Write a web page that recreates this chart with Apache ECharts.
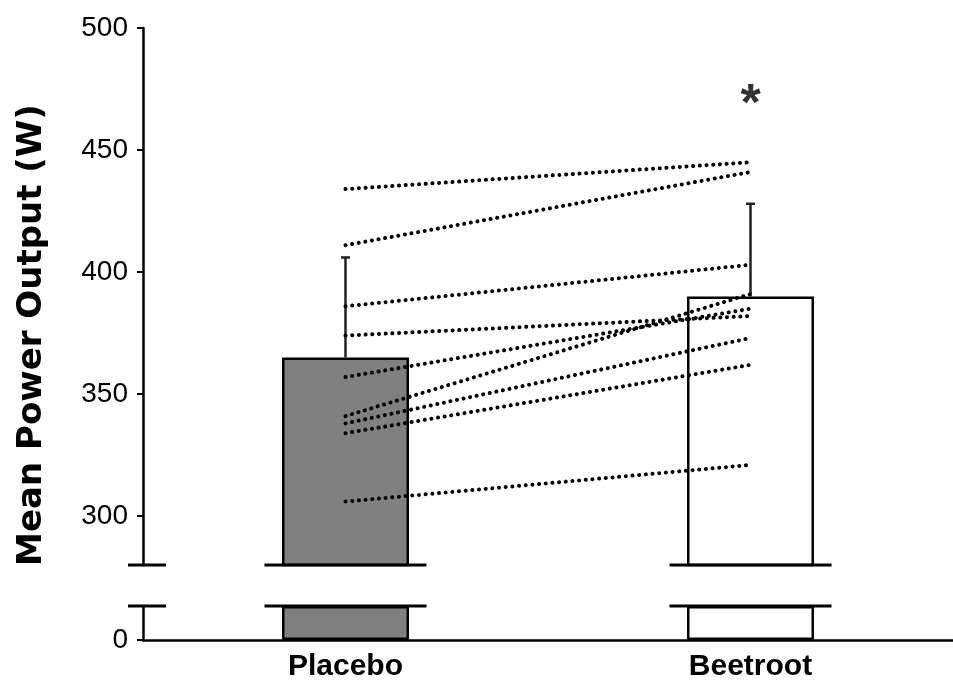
<!DOCTYPE html>
<html>
<head>
<meta charset="utf-8">
<script src="https://cdn.jsdelivr.net/npm/echarts@6/dist/echarts.min.js"></script>
<style>
  html, body { margin: 0; padding: 0; background: #fff; }
  #chart { width: 953px; height: 686px; }
</style>
</head>
<body>
<div id="chart"></div>
<script>
// values
const categories = ['Placebo', 'Beetroot'];
const meanPower = [365, 390];
const meanPlusSd = [406, 428];
const placeboSubjects = [434, 411, 386, 374, 357, 341, 338, 334, 306];
const beetrootSubjects = [445, 441, 403, 382, 385, 391, 373, 362, 321];
const upperTicks = [300, 350, 400, 450, 500];
const upperMin = 280;
const upperMax = 500;
const lowerMax = 14;
const starValue = 468;

const chart = echarts.init(document.getElementById('chart'));

const sans = '"Liberation Sans", Arial, sans-serif';

// thick horizontal marks where the axis is broken
function renderBreak(params, api) {
  const pt = api.coord([api.value(0), api.value(1)]);
  const half = api.size([1, 0])[0] * 0.2;
  const children = [{
    type: 'line',
    shape: { x1: pt[0] - half, y1: pt[1], x2: pt[0] + half, y2: pt[1] },
    style: { stroke: '#000', lineWidth: 3 }
  }];
  if (params.dataIndex === 0) {
    const x0 = params.coordSys.x;
    children.push({
      type: 'line',
      shape: { x1: x0 - 15, y1: pt[1], x2: x0 + 23, y2: pt[1] },
      style: { stroke: '#000', lineWidth: 3 }
    });
  }
  return { type: 'group', children: children };
}

// upward-only error bars
function renderError(params, api) {
  const base = api.coord([api.value(0), api.value(1)]);
  const top = api.coord([api.value(0), api.value(2)]);
  return {
    type: 'group',
    children: [
      { type: 'line', shape: { x1: base[0], y1: base[1], x2: top[0], y2: top[1] },
        style: { stroke: '#222', lineWidth: 2.5 } },
      { type: 'line', shape: { x1: top[0] - 4.5, y1: top[1], x2: top[0] + 4.5, y2: top[1] },
        style: { stroke: '#222', lineWidth: 2.5 } }
    ]
  };
}

const barColors = ['#808080', '#ffffff'];

const subjectLines = placeboSubjects.map((p, i) => ({
  type: 'line',
  xAxisIndex: 0,
  yAxisIndex: 0,
  data: [p, beetrootSubjects[i]],
  showSymbol: false,
  symbol: 'none',
  silent: true,
  z: 5,
  lineStyle: { color: '#000', width: 4, type: [0.1, 6.6], cap: 'round' }
}));

const option = {
  animation: false,
  backgroundColor: '#fff',
  grid: [
    { left: 143, right: 0, top: 28, height: 537 },
    { left: 143, right: 0, top: 606, height: 34 }
  ],
  xAxis: [
    { type: 'category', gridIndex: 0, data: categories, show: false },
    {
      type: 'category', gridIndex: 1, data: categories,
      axisLine: { lineStyle: { color: '#000', width: 2.5 } },
      axisTick: { length: 6, lineStyle: { color: '#000', width: 2 } },
      axisLabel: {
        color: '#000', fontFamily: sans, fontWeight: 'bold', fontSize: 30, margin: 12
      }
    }
  ],
  yAxis: [
    {
      type: 'value', gridIndex: 0, min: upperMin, max: upperMax,
      splitLine: { show: false },
      axisLine: { show: true, lineStyle: { color: '#000', width: 2.5 } },
      axisTick: { show: true, customValues: upperTicks, length: 6, lineStyle: { color: '#000', width: 2 } },
      axisLabel: { customValues: upperTicks, color: '#000', fontFamily: sans, fontSize: 28, margin: 15 }
    },
    {
      type: 'value', gridIndex: 1, min: 0, max: lowerMax,
      splitLine: { show: false },
      axisLine: { show: true, lineStyle: { color: '#000', width: 2.5 } },
      axisTick: { show: true, customValues: [0], length: 6, lineStyle: { color: '#000', width: 2 } },
      axisLabel: { customValues: [0], color: '#000', fontFamily: sans, fontSize: 28, margin: 15 }
    }
  ],
  graphic: [{
    type: 'text',
    x: 32,
    y: 335,
    rotation: Math.PI / 2,
    style: {
      text: 'Mean Power Output (W)',
      fill: '#000',
      font: 'bold 34px "DejaVu Sans", sans-serif',
      align: 'center',
      verticalAlign: 'middle'
    }
  }],
  series: [
    {
      type: 'bar', xAxisIndex: 0, yAxisIndex: 0, barWidth: 127, z: 2,
      data: meanPower.map((v, i) => ({
        value: v,
        itemStyle: { color: barColors[i], borderColor: '#000', borderWidth: 2.5 }
      }))
    },
    {
      type: 'bar', xAxisIndex: 1, yAxisIndex: 1, barWidth: 127, z: 2,
      data: meanPower.map((v, i) => ({
        value: Math.min(v, lowerMax),
        itemStyle: { color: barColors[i], borderColor: '#000', borderWidth: 2.5 }
      }))
    },
    {
      type: 'custom', xAxisIndex: 0, yAxisIndex: 0, z: 4, silent: true,
      renderItem: renderError,
      data: meanPower.map((v, i) => [i, v, meanPlusSd[i]])
    },
    ...subjectLines,
    {
      type: 'custom', xAxisIndex: 0, yAxisIndex: 0, z: 6, silent: true,
      renderItem: renderBreak,
      data: categories.map((c, i) => [i, upperMin])
    },
    {
      type: 'custom', xAxisIndex: 1, yAxisIndex: 1, z: 6, silent: true,
      renderItem: renderBreak,
      data: categories.map((c, i) => [i, lowerMax])
    },
    {
      type: 'scatter', xAxisIndex: 0, yAxisIndex: 0, symbolSize: 0, silent: true,
      data: [[1, starValue]],
      label: {
        show: true, position: 'inside', formatter: '*',
        color: '#000', fontWeight: 'bold', fontSize: 52, fontFamily: sans
      }
    }
  ]
};

chart.setOption(option);
</script>
</body>
</html>
